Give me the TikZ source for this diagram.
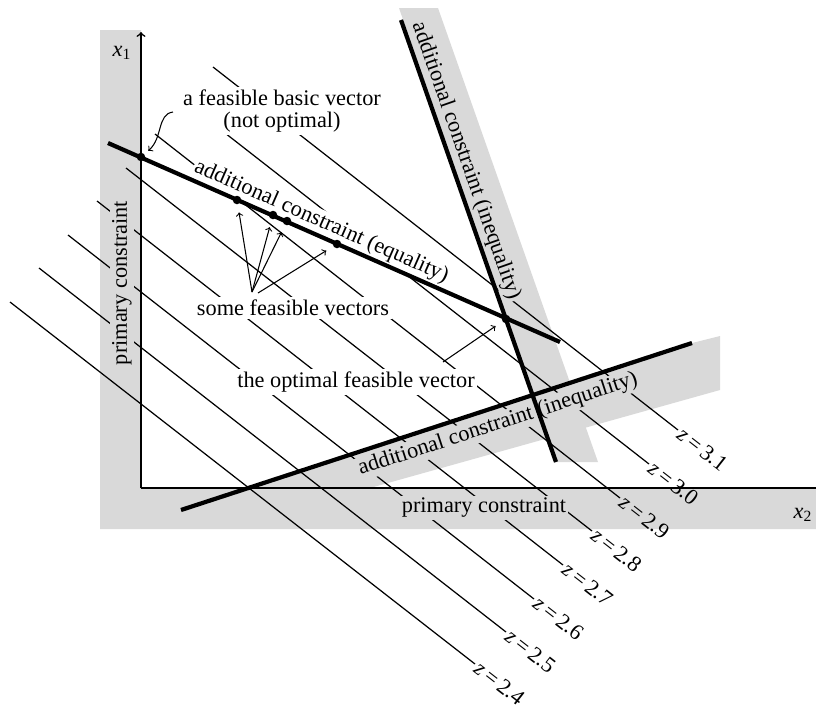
\documentclass[tikz,border=0pt]{standalone}
\usepackage{fontspec}
\setmainfont{Liberation Serif}
\usepackage{tikz}

\newcommand{\zval}[1]{\textit{z}\,=\,#1}

\tikzset{
  zline/.style={line width=0.7pt},
  zlabel/.style={sloped, pos=1, anchor=west, inner sep=1.2pt},
  cline/.style={line width=2.4pt},
  axis/.style={line width=0.9pt},
  band/.style={fill=black!15},
  dot/.style={circle, fill, inner sep=0pt, minimum size=1.7mm},
  tag/.style={fill=white, inner sep=1.5pt},
  graytag/.style={fill=black!15, inner sep=1pt},
  pointer/.style={->, line width=0.6pt, shorten >=1.6mm},
}

\begin{document}
\begin{tikzpicture}[x=0.2mm, y=-0.2mm, font=\fontsize{12.7}{13}\selectfont]
  \useasboundingbox (0,0) rectangle (816,709);

  % Define coordinates
  \coordinate (origin) at (141,488);
  \coordinate (x1end) at (141,32);
  \coordinate (x2end) at (816,488);
  \coordinate (eqA) at (108,143);
  \coordinate (eqB) at (560,342);
  \coordinate (stA) at (401,20);
  \coordinate (stB) at (556,462);
  \coordinate (inA) at (181,510);
  \coordinate (inB) at (692,343);

  % Shaded sides of the constraints
  \fill[band] (100,30) -- (141,30) -- (141,488) -- (816,488) -- (816,529) -- (100,529) -- cycle;
  \fill[band] (399,8) -- (438,8) -- (598,462) -- (556,462) -- cycle;
  \fill[band] (247,488) -- (692,343) -- (720,336) -- (720,390) -- (370,488) -- cycle;

  % Level lines of the objective
  \draw[zline] (10,302) -- (475,664) node[zlabel] (z24) {\zval{2.4}};
  \draw[zline] (39,268) -- (506,632) node[zlabel] (z25) {\zval{2.5}};
  \draw[zline] (68,235) -- (534,599) node[zlabel] (z26) {\zval{2.6}};
  \draw[zline] (97,201) -- (563,565) node[zlabel] (z27) {\zval{2.7}};
  \draw[zline] (126,168) -- (592,531) node[zlabel] (z28) {\zval{2.8}};
  \draw[zline] (155,134) -- (620,498) node[zlabel] (z29) {\zval{2.9}};
  \draw[zline] (184,101) -- (649,464) node[zlabel] (z30) {\zval{3.0}};
  \draw[zline] (213,67) -- (678,430) node[zlabel] (z31) {\zval{3.1}};

  % Texts (they blank the level lines behind them)
  \node[tag, align=center] (basictxt) at (282,111) {a feasible basic vector\\(not optimal)};
  \node[tag] (sometxt) at (293,308) {some feasible vectors};
  \node[tag] (opttxt) at (356,382) {the optimal feasible vector};
  \node[graytag, rotate=90] (primleft) at (122,283) {primary constraint};
  \node[graytag] (primlow) at (484,508) {primary constraint};
  \node[graytag] (x1lab) at (122,53) {\textit{x}\textsubscript{1}};
  \node[graytag] (x2lab) at (803,515) {\textit{x}\textsubscript{2}};
  \path (eqA) -- (eqB) node[tag, sloped, pos=0.46, anchor=south, inner sep=1pt, outer sep=1pt] (eqtxt) {additional constraint (equality)};
  \path (stA) -- (stB) node[graytag, sloped, pos=0.33, anchor=south, outer sep=1.5pt] (sttxt) {additional constraint (inequality)};
  \path (inA) -- (inB) node[graytag, sloped, pos=0.61, anchor=north, outer sep=3pt] (intxt) {additional constraint (inequality)};

  % Axes
  \draw[axis, ->] (origin) -- (x1end);
  \draw[axis] (origin) -- (x2end);

  % Constraint lines
  \draw[cline] (eqA) -- (eqB);
  \draw[cline] (stA) -- (stB);
  \draw[cline] (inA) -- (inB);

  % Feasible vectors
  \node[dot] (b0) at (141,157) {};
  \node[dot] (p1) at (237,200) {};
  \node[dot] (p2) at (273,215) {};
  \node[dot] (p3) at (287,221) {};
  \node[dot] (p4) at (337,244) {};
  \node[dot] (opt) at (506,319) {};

  % Pointers
  \coordinate (basicA) at (173,112);
  \coordinate (someA) at (252,292);
  \coordinate (someB) at (258,293);
  \coordinate (optA) at (443,362);
  \draw[pointer, shorten >=1mm] (basicA) .. controls (157,114) and (163,138) .. (b0);
  \draw[pointer] (someA) -- (p1);
  \draw[pointer] (someA) -- (p2);
  \draw[pointer] (someA) -- (p3);
  \draw[pointer] (someB) -- (p4);
  \draw[pointer] (optA) -- (opt);
\end{tikzpicture}
\end{document}
